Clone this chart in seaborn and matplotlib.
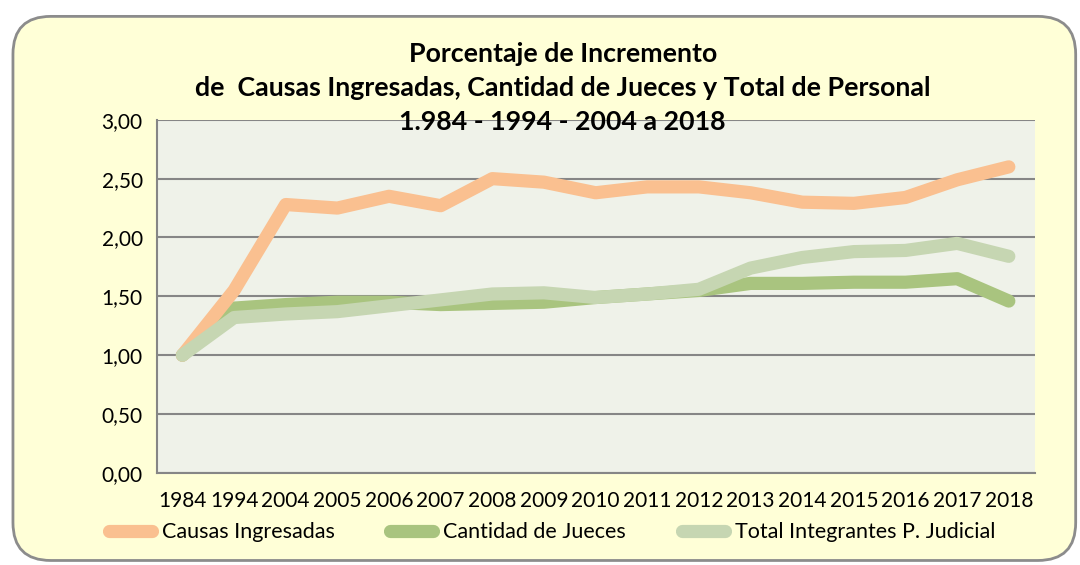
import pandas as pd
import seaborn as sns
import matplotlib.pyplot as plt
from matplotlib.patches import FancyBboxPatch

years = ["1984", "1994", "2004", "2005", "2006", "2007", "2008", "2009", "2010",
         "2011", "2012", "2013", "2014", "2015", "2016", "2017", "2018"]
causas = [1.00, 1.55, 2.28, 2.25, 2.35, 2.27, 2.50, 2.47, 2.38,
          2.43, 2.43, 2.38, 2.30, 2.29, 2.34, 2.49, 2.60]
jueces = [1.00, 1.40, 1.43, 1.45, 1.45, 1.43, 1.44, 1.45, 1.49,
          1.52, 1.55, 1.61, 1.61, 1.62, 1.62, 1.65, 1.46]
total = [1.00, 1.32, 1.35, 1.37, 1.42, 1.47, 1.52, 1.53, 1.49,
         1.52, 1.56, 1.74, 1.83, 1.88, 1.89, 1.95, 1.84]

series = ["Causas Ingresadas", "Cantidad de Jueces", "Total Integrantes P. Judicial"]
colors = {"Causas Ingresadas": "#FAC090",
          "Cantidad de Jueces": "#A9C47F",
          "Total Integrantes P. Judicial": "#C6D6B2"}

df = pd.DataFrame({"Año": years, series[0]: causas, series[1]: jueces, series[2]: total})
df_melted = pd.melt(df, id_vars=["Año"], value_vars=series, var_name="Serie", value_name="Valor")

sns.set_style("white")
plt.rcParams["font.family"] = ["Lato", "DejaVu Sans"]
plt.rcParams["text.color"] = "black"
plt.rcParams["xtick.labelcolor"] = "black"
plt.rcParams["ytick.labelcolor"] = "black"

fig = plt.figure(figsize=(10.8, 5.65), dpi=100)
fig.patch.set_facecolor("white")

# rounded chart box
box = FancyBboxPatch((0.012, 0.008), 0.984, 0.963, boxstyle="round,pad=0,rounding_size=0.035",
                     transform=fig.transFigure, facecolor="#FFFFD7", edgecolor="#8C8C8C",
                     linewidth=2, mutation_aspect=1080 / 565, zorder=-5)
fig.patches.append(box)

ax = fig.add_axes([0.145, 0.163, 0.813, 0.625])
ax.set_zorder(1)
ax.set_facecolor("#EFF2E9")

# draw order: jueces below, causas, total on top
z = {"Cantidad de Jueces": 2, "Causas Ingresadas": 3, "Total Integrantes P. Judicial": 4}
for s in series:
    sub = df_melted[df_melted["Serie"] == s]
    sns.lineplot(data=sub, x="Año", y="Valor", color=colors[s], linewidth=9.5,
                 ax=ax, label=s, zorder=z[s], sort=False)
for line in ax.get_lines():
    line.set_solid_capstyle("round")
    line.set_solid_joinstyle("round")

ax.set_ylim(0, 3)
ax.set_xlim(-0.5, len(years) - 0.5)
ax.set_yticks([0, 0.5, 1, 1.5, 2, 2.5, 3])
ax.set_yticklabels(["0,00", "0,50", "1,00", "1,50", "2,00", "2,50", "3,00"], fontsize=15)
ax.set_xticks(range(len(years)))
ax.set_xticklabels(years, fontsize=15)
ax.set_xticks([i - 0.5 for i in range(len(years) + 1)], minor=True)
ax.tick_params(axis="x", which="major", length=0, pad=13)
ax.tick_params(axis="x", which="minor", length=8, width=1.5, color="#868686", direction="inout")
ax.tick_params(axis="y", length=6, width=1.5, color="#868686", pad=4)
ax.yaxis.grid(True, color="#868686", linewidth=1.5)
ax.set_axisbelow(True)
ax.set_xlabel("")
ax.set_ylabel("")
for sp in ["top", "right"]:
    ax.spines[sp].set_visible(False)
for sp in ["left", "bottom"]:
    ax.spines[sp].set_color("#868686")
    ax.spines[sp].set_linewidth(1.5)

handles, labels = ax.get_legend_handles_labels()
for h in handles:
    h.set_solid_capstyle("round")
ax.legend(handles, labels, loc="center", bbox_to_anchor=(0.511, 0.058),
          bbox_transform=fig.transFigure, ncol=3, frameon=False, fontsize=15.5,
          handlelength=2.0, handletextpad=0.45, columnspacing=2.6, borderpad=0)

fig.text(0.521, 0.844, "Porcentaje de Incremento\nde  Causas Ingresadas, Cantidad de Jueces y Total de Personal\n1.984 - 1994 - 2004 a 2018",
         ha="center", va="center", fontsize=19.3, fontweight="bold", linespacing=1.5, zorder=10)

plt.savefig("out.png", dpi=100)
